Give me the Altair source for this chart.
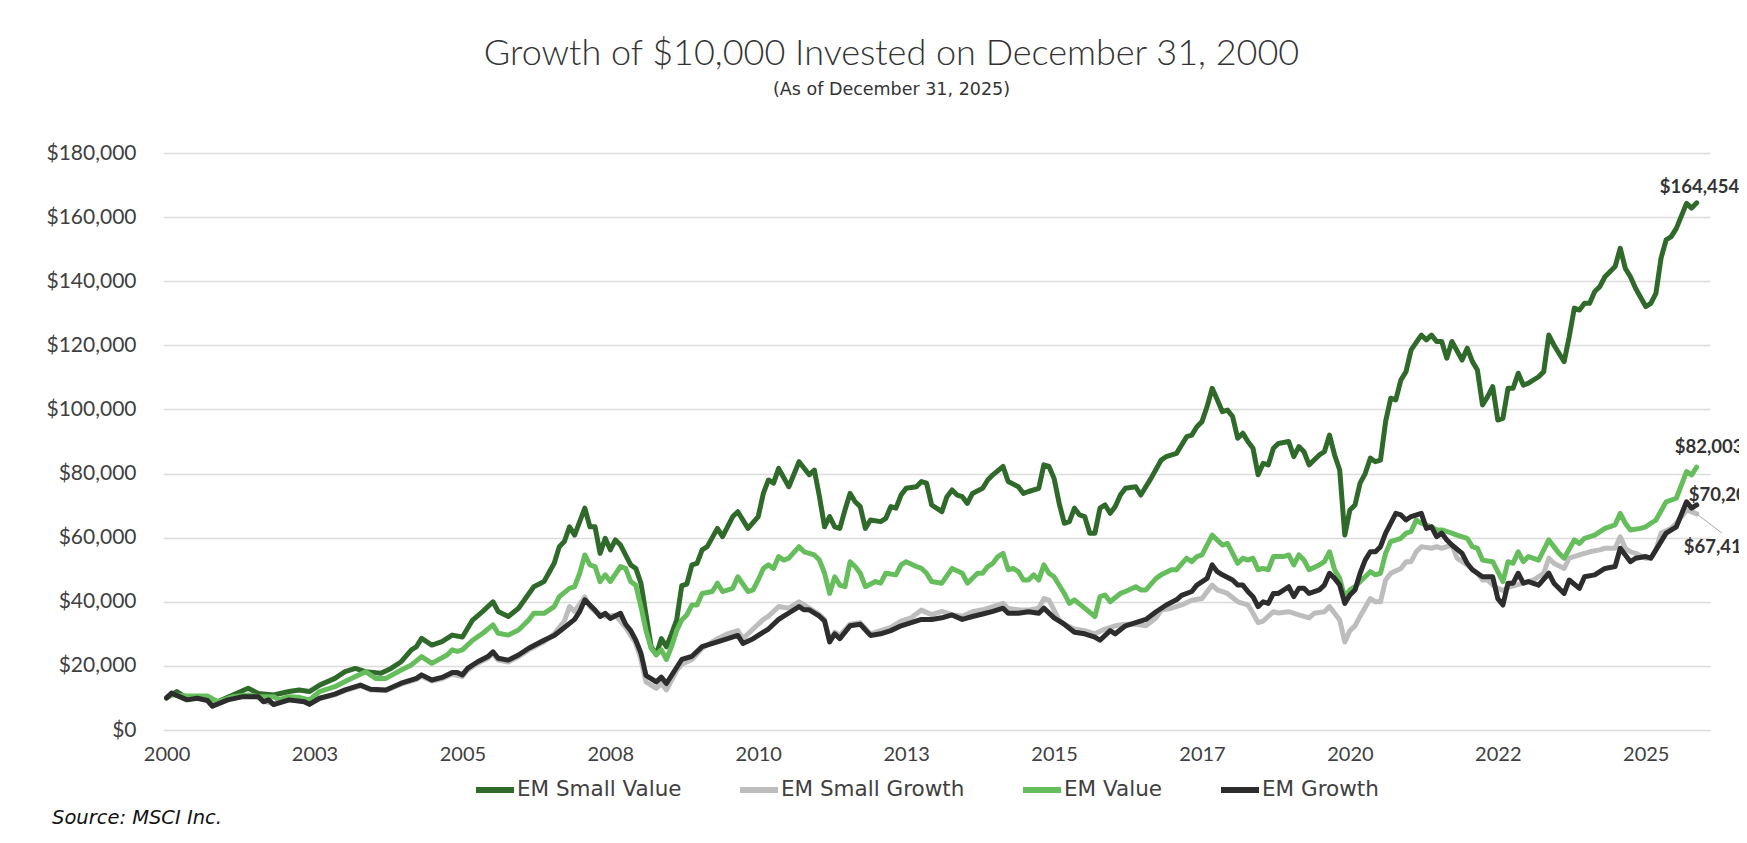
import altair as alt
import pandas as pd

SERIES = ["EM Small Value", "EM Small Growth", "EM Value", "EM Growth"]
COLORS = ["#2f6a2b", "#bdbdbd", "#66bd5c", "#2d2d2d"]

# x tick positions (month index from Dec 2000) and their labels
TICK_MONTHS = [0, 29, 58, 87, 116, 145, 174, 203, 232, 261, 290]
TICK_LABELS = ["2000", "2003", "2005", "2008", "2010", "2013", "2015", "2017", "2020", "2022", "2025"]
Y_TICKS = [0, 20000, 40000, 60000, 80000, 100000, 120000, 140000, 160000, 180000]

# (month index, value)
SV_POINTS = [(0,10000),(2,12000),(4,9900),(8,10200),(10,8800),(13,10900),(16,13000),(18,11400),(21,10900),(24,12000),(26,12500),(28,12000),(30,14000),(33,16100),(35,18200),(37,19200),(39,18200),(42,17700),(44,19200),(46,21300),(48,25000),(49,26000),(50,28600),(52,26500),(54,27600),(56,29600),(58,29000),(60,34300),(62,37000),(64,40000),(65,37000),(67,35400),(69,38000),(72,44700),(74,46300),(76,52000),(77,57200),(78,58800),(79,63400),(80,60800),(82,69200),(83,63400),(84,63400),(85,55100),(86,59800),(87,56200),(88,59300),(89,57700),(91,51500),(92,50400),(93,45800),(94,36000),(95,26000),(96,23500),(97,28500),(98,26000),(99,30000),(100,34300),(101,45000),(102,45500),(103,51500),(104,52000),(105,56200),(106,57200),(108,62900),(109,60300),(111,66600),(112,68100),(114,62900),(116,66600),(117,73800),(118,78000),(119,77000),(120,81600),(122,75900),(124,83700),(126,79600),(127,81100),(128,72800),(129,63400),(130,66600),(131,63400),(132,62900),(133,68600),(134,73800),(135,71200),(136,69700),(137,62900),(138,65500),(140,65000),(141,66000),(142,69700),(143,69200),(144,73300),(145,75400),(147,75900),(148,77500),(149,77000),(150,70200),(152,68100),(153,72800),(154,74900),(155,73300),(156,72800),(157,70700),(158,73800),(160,75400),(161,78000),(162,79600),(164,82200),(165,77500),(167,75900),(168,73800),(169,74400),(171,75400),(172,82700),(173,82200),(174,78500),(175,70700),(176,64500),(177,65000),(178,69200),(179,67100),(180,66600),(181,61400),(182,61400),(183,69200),(184,70200),(185,67600),(186,69700),(187,73300),(188,75400),(190,75900),(191,73300),(193,78500),(195,84200),(196,85300),(198,86300),(200,91500),(201,92000),(202,94600),(203,96200),(204,100900),(205,106600),(206,103000),(207,99300),(208,99800),(209,97800),(210,91000),(211,92600),(212,90000),(213,87900),(214,79600),(215,83200),(216,82700),(217,87900),(218,89400),(220,90000),(221,85300),(222,88400),(223,86800),(224,82700),(226,85800),(227,86800),(228,92000),(229,85800),(230,81100),(231,60800),(232,68600),(233,70200),(234,77000),(235,80000),(236,84800),(237,83700),(238,84200),(239,96200),(240,103500),(241,103000),(242,109200),(243,111800),(244,118600),(246,123200),(247,121700),(248,123200),(249,121200),(250,121200),(251,116000),(252,121200),(254,115400),(255,119100),(256,115000),(257,112300),(258,101400),(259,104000),(260,107100),(261,96700),(262,97200),(263,106600),(264,106600),(265,111300),(266,107600),(267,108200),(269,110200),(270,111800),(271,123200),(272,120100),(274,114900),(275,122700),(276,131600),(277,131000),(278,133100),(279,133100),(280,136800),(281,138300),(282,141400),(284,144600),(285,150300),(286,144000),(287,141400),(288,137800),(290,132100),(291,133100),(292,136200),(293,147200),(294,152900),(295,153900),(296,156500),(298,164300),(299,162800),(300,164454)]

SG_POINTS = [(0,10000),(1,11500),(4,9600),(6,10000),(8,9400),(9,7800),(12,9600),(15,10600),(18,10400),(19,9000),(21,8200),(24,9400),(27,9000),(28,8200),(30,9800),(33,11000),(35,12300),(38,13800),(40,12500),(43,12300),(46,14300),(49,15800),(50,16800),(52,15300),(54,16000),(56,17400),(58,16700),(59,18700),(61,20800),(63,22400),(64,23800),(65,21800),(67,21200),(69,22900),(71,25000),(74,27500),(76,30000),(78,34000),(79,38500),(80,37000),(82,41500),(83,38500),(84,37000),(86,35500),(88,35800),(90,32000),(92,27000),(93,22000),(94,15000),(95,14000),(96,13000),(97,14500),(98,12500),(99,15500),(100,18500),(101,20500),(103,22000),(105,25500),(108,28500),(110,30000),(112,31000),(113,28500),(115,31500),(117,34500),(118,35500),(120,38500),(122,38000),(124,40000),(126,38000),(128,36000),(129,34500),(130,28000),(131,30500),(132,29500),(134,33000),(136,33500),(138,30000),(140,31000),(142,32000),(144,34000),(146,35000),(148,37400),(150,36000),(152,37000),(154,36000),(156,35500),(158,36900),(160,37500),(162,38500),(164,39500),(165,37900),(167,37500),(169,37400),(171,38000),(172,41000),(173,40500),(175,34300),(176,33000),(178,31500),(180,31000),(182,30000),(184,31500),(186,32500),(188,33000),(190,33000),(192,32500),(194,35000),(195,37400),(197,38000),(199,39000),(201,40500),(203,41000),(205,45200),(206,43700),(208,42600),(210,40000),(212,39000),(213,36400),(214,33500),(215,34000),(217,36900),(218,36500),(220,36900),(222,35900),(224,35000),(225,36400),(227,36900),(228,38500),(229,36400),(230,34300),(231,27500),(232,31000),(233,32500),(234,35500),(236,41000),(237,40000),(238,40000),(239,46800),(240,48900),(242,50400),(243,52500),(244,52500),(245,55600),(246,57200),(248,56700),(249,57200),(250,56700),(252,57700),(253,53600),(255,51500),(257,48900),(258,46800),(259,46800),(260,45200),(261,44200),(262,43500),(263,44500),(266,45800),(268,46800),(270,48900),(271,53600),(272,52000),(274,50400),(275,53600),(277,54600),(279,55600),(281,56200),(282,56700),(284,56700),(285,60300),(286,56700),(287,55600),(288,55100),(290,53600),(291,53600),(292,56200),(293,61400),(295,62900),(296,64500),(298,68600),(299,68100),(300,67410)]

V_POINTS = [(0,10000),(1,11000),(4,10600),(8,10600),(10,8800),(13,10400),(16,10900),(18,10400),(21,10400),(22,9400),(24,10400),(26,10200),(28,9400),(30,12000),(33,13500),(35,15100),(39,18200),(41,16100),(43,16100),(46,18700),(48,20300),(50,22900),(52,20800),(55,23400),(56,25000),(57,24500),(58,25000),(60,28000),(62,30200),(64,32800),(65,30200),(67,29600),(69,31200),(71,34300),(72,36400),(74,36400),(76,38500),(77,41600),(79,44200),(80,44700),(81,48900),(82,54600),(83,51500),(84,51000),(85,46300),(86,48400),(87,46300),(89,51000),(90,50400),(91,46300),(92,45200),(93,38500),(94,31000),(95,25500),(96,23500),(97,25000),(98,22000),(99,26000),(100,31000),(101,34300),(102,35900),(103,39000),(104,39000),(105,42600),(107,43200),(108,45800),(109,43200),(111,44200),(112,47800),(114,43200),(115,43700),(116,46800),(117,50400),(118,51500),(119,50400),(120,54100),(121,53000),(122,53600),(124,57200),(125,55600),(127,54600),(128,53000),(129,48900),(130,42600),(131,47800),(132,45200),(133,44700),(134,52500),(135,51000),(136,48900),(137,44700),(139,46300),(140,45800),(141,48900),(143,48400),(144,51500),(145,52500),(147,51000),(148,50400),(149,48900),(150,46300),(152,45800),(154,50400),(156,48900),(157,45800),(159,48900),(160,48900),(161,51000),(162,52000),(163,54100),(164,55100),(165,50000),(166,50400),(167,49400),(168,46800),(169,46800),(170,48400),(171,46800),(172,51500),(173,48900),(174,47800),(176,42600),(177,39500),(178,40600),(180,38000),(182,35400),(183,41600),(184,42100),(185,40000),(187,42600),(188,43200),(190,44700),(191,43700),(192,43700),(194,47300),(195,48400),(197,50000),(198,50000),(200,53600),(201,52500),(202,54100),(203,54600),(205,60800),(207,57700),(208,58200),(209,55100),(210,52000),(211,53600),(212,53000),(213,53600),(214,50000),(215,50400),(216,50000),(217,54100),(219,54100),(220,54600),(221,51500),(222,54600),(223,53000),(224,50000),(226,51500),(227,52500),(228,55600),(229,50000),(230,47300),(231,41500),(232,43700),(233,44700),(235,47800),(236,49400),(237,48400),(238,48900),(239,55100),(240,58800),(242,59800),(243,61400),(244,61900),(245,65500),(246,64500),(248,63400),(249,62400),(250,62400),(252,61400),(253,60800),(255,59800),(256,57200),(257,56700),(258,53000),(260,52500),(262,46300),(263,52500),(264,52000),(265,55600),(266,52500),(267,54100),(269,53000),(271,59300),(273,55100),(274,53600),(276,59300),(277,58200),(278,59800),(280,60800),(282,62900),(284,64000),(285,67600),(286,64500),(287,62400),(289,62900),(290,63400),(291,64500),(292,65500),(294,71200),(296,72300),(298,80600),(299,79600),(300,82003)]

G_POINTS = [(0,10000),(1,11500),(4,9400),(6,9900),(8,9200),(9,7400),(12,9400),(15,10400),(18,10400),(19,8800),(20,9400),(21,7900),(24,9400),(27,8800),(28,8000),(30,9900),(33,11200),(35,12500),(38,14000),(40,12700),(43,12500),(46,14600),(49,16100),(50,17200),(52,15600),(54,16400),(56,17900),(57,17900),(58,17200),(59,19200),(61,21300),(63,22900),(64,24400),(65,22400),(67,21800),(69,23400),(71,25500),(74,28000),(76,29500),(78,32000),(80,34500),(81,37000),(82,40600),(83,39000),(84,37400),(85,35400),(86,36400),(87,34800),(89,36400),(90,33000),(91,31000),(92,28000),(93,24000),(94,17000),(95,16000),(96,15000),(97,16500),(98,14500),(99,17000),(100,19500),(101,22000),(103,23000),(105,26000),(108,27500),(110,28500),(112,29500),(113,27000),(115,28500),(117,30500),(118,31500),(120,34500),(121,35500),(122,36500),(124,38500),(125,37500),(126,37500),(128,35500),(129,34000),(130,27500),(131,30000),(132,28500),(134,32500),(136,33000),(138,29500),(140,30000),(142,31000),(144,32500),(146,33500),(148,34500),(150,34500),(152,35000),(154,35900),(156,34500),(158,35400),(160,36200),(162,37000),(164,38000),(165,36400),(167,36400),(169,36900),(171,36400),(172,38000),(174,35000),(176,33000),(178,30500),(180,30000),(182,29000),(183,28000),(185,31000),(186,30000),(188,32500),(190,33500),(192,34500),(194,36900),(196,39000),(198,40600),(199,42000),(201,43200),(202,45200),(204,47300),(205,51500),(206,49400),(207,48400),(209,46800),(210,45200),(211,45200),(212,43200),(213,41600),(214,38500),(215,40000),(216,39500),(217,42600),(218,42600),(220,44700),(221,41600),(222,44200),(223,44200),(224,42600),(226,43700),(227,45200),(228,48900),(229,47300),(230,45200),(231,39500),(232,42100),(233,43700),(234,48900),(235,53000),(236,55600),(237,55600),(238,57200),(239,61400),(241,67600),(242,67100),(243,65500),(244,66600),(246,67600),(247,62900),(248,63400),(249,60300),(250,61400),(251,59300),(252,57700),(254,55100),(255,52000),(256,50000),(258,47800),(260,47800),(261,41000),(262,39000),(263,45800),(264,45800),(265,48900),(266,45800),(267,46300),(269,45200),(271,48900),(272,45800),(274,42600),(275,46800),(277,44200),(278,47800),(280,48400),(282,50400),(284,51000),(285,56700),(286,54600),(287,52500),(288,53600),(290,54100),(291,53600),(292,56200),(294,61400),(296,63400),(298,71200),(299,69200),(300,70200)]

rows = []
for name, pts in zip(SERIES, [SV_POINTS, SG_POINTS, V_POINTS, G_POINTS]):
    for m, v in pts:
        rows.append({"series": name, "month": m, "value": v})
df = pd.DataFrame(rows)
last = df[df["month"] == 300].copy()

FONT = "Lato"
WIDE = "DejaVu Sans"
TEXT = "#404040"

color = alt.Color("series:N", scale=alt.Scale(domain=SERIES, range=COLORS),
                  legend=alt.Legend(title=None, orient="none", direction="horizontal",
                                    columns=4, legendX=310, legendY=615,
                                    symbolType="stroke", symbolSize=1444, symbolStrokeWidth=6,
                                    labelFontSize=21.5, labelFont=WIDE, labelColor=TEXT,
                                    labelLimit=400, labelOffset=0, columnPadding=46, padding=0))

x = alt.X("month:Q", scale=alt.Scale(domain=[-0.7, 302.6], nice=False, zero=False),
          axis=alt.Axis(values=TICK_MONTHS, title=None, grid=False, ticks=False, domain=False,
                        labelExpr="%s[indexof(%s, datum.value)]" % (TICK_LABELS, TICK_MONTHS),
                        labelFontSize=20, labelFont=FONT, labelColor=TEXT, labelPadding=14))
y = alt.Y("value:Q", scale=alt.Scale(domain=[0, 180000], nice=False),
          axis=alt.Axis(values=Y_TICKS, title=None, format="$,.0f", ticks=False, domain=False,
                        gridColor="#dcdcdc", gridWidth=1.5,
                        labelFontSize=21, labelFont=FONT, labelColor=TEXT, labelPadding=27))

layers = []
for name in SERIES:
    layers.append(
        alt.Chart(df).transform_filter(alt.datum.series == name)
        .mark_line(strokeWidth=5, strokeJoin="round", strokeCap="round")
        .encode(x=x, y=y, color=color)
    )

lab_style = dict(font=FONT, fontSize=18.5, fontWeight="bold", color="#333333", align="left",
                 baseline="alphabetic")
offsets = {"EM Small Value": (-37, -10), "EM Value": (-22, -14),
           "EM Growth": (-8, -4), "EM Small Growth": (-13, 39)}
for name in SERIES:
    dx, dy = offsets[name]
    layers.append(
        alt.Chart(last).transform_filter(alt.datum.series == name)
        .mark_text(dx=dx, dy=dy, **lab_style)
        .encode(x="month:Q", y="value:Q", text=alt.Text("value:Q", format="$,.0f"))
    )

leader = (alt.Chart(last).transform_filter(alt.datum.series == "EM Small Growth")
          .mark_rule(color="#aaaaaa", strokeWidth=1, x2Offset=25, y2Offset=19)
          .encode(x="month:Q", x2="month:Q", y="value:Q", y2="value:Q"))
layers.append(leader)

source = (alt.Chart(pd.DataFrame({"t": ["Source: MSCI Inc."]}))
          .mark_text(font=WIDE, fontSize=19.5, fontStyle="italic", color="#111111",
                     align="left", baseline="alphabetic")
          .encode(x=alt.value(-111), y=alt.value(671), text="t:N"))
layers.append(source)

chart = alt.layer(*layers).properties(
    width=1547, height=577,
    padding={"left": 155, "top": 145, "right": 29, "bottom": 105},
    autosize=alt.AutoSizeParams(type="none"),
    title=alt.TitleParams(
        text="Growth of $10,000 Invested on December 31, 2000",
        subtitle="(As of December 31, 2025)",
        font=FONT, fontSize=36, fontWeight=300, color="#333333",
        subtitleFont=WIDE, subtitleFontSize=17.5, subtitleColor="#333333",
        subtitlePadding=8, anchor="middle", frame="group", dx=-45, offset=43),
).configure_view(stroke=None)

chart.save("out.html", embed_options={"renderer": "svg", "actions": False})
